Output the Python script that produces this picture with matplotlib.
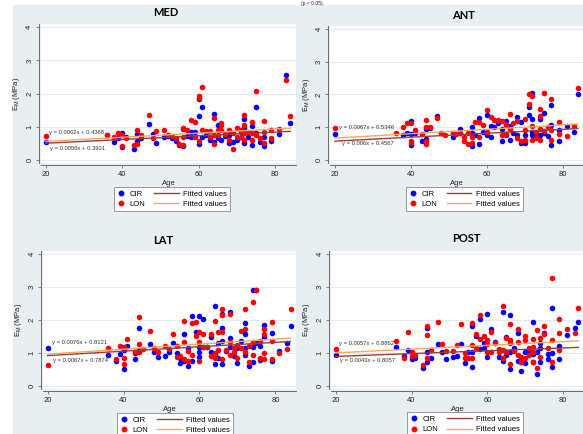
import numpy as np
import matplotlib.pyplot as plt
from matplotlib.lines import Line2D
from matplotlib.patches import Rectangle
from matplotlib.legend_handler import HandlerLine2D

plt.rcParams['font.family'] = ['Liberation Sans', 'DejaVu Sans']

# ---- data ----
med_cir_age = [20, 36, 38, 39, 40, 40, 41, 43, 44, 44, 45, 47, 48, 49, 51, 52, 53, 54, 55, 56, 56, 57, 58, 58, 59,
               60, 60, 60, 61, 61, 62, 63, 64, 64, 65, 65, 66, 67, 68, 68, 69, 70, 71, 72, 72, 72, 73, 74, 74,
               75, 75, 76, 77, 77, 79, 81, 83, 84]
med_cir = [.54, .75, .54, .65, .80, .40, .70, .33, .78, .56, .65, 1.09, .79, .52, .69, .72, .65, .56, .46, .92, .43,
           .72, .83, .70, .83, 1.83, 1.32, .49, 1.59, .70, .76, .60, 1.39, .55, 1.05, .65, .60, .72, .50, .75, .55,
           .60, .85, 1.23, .97, .50, .70, 1.03, .46, 1.60, .80, .55, .43, .70, .57, .77, 2.55, 1.13]
med_lon_age = [20, 36, 38, 39, 40, 40, 41, 43, 44, 44, 45, 47, 48, 49, 51, 52, 53, 54, 55, 56, 56, 56, 57, 58, 59,
               59, 60, 60, 60, 61, 61, 62, 63, 63, 64, 64, 64, 65, 65, 66, 66, 66, 67, 68, 68, 69, 69, 70, 70, 71,
               71, 72, 72, 72, 72, 73, 74, 74, 74, 75, 75, 76, 77, 77, 77, 79, 79, 81, 83, 84]
med_lon = [.72, .76, .69, .81, .75, .43, .65, .44, .90, .48, .76, 1.35, .67, .88, .89, .75, .73, .67, .48, .97, .44,
           .70, .90, 1.22, 1.15, .70, 1.94, 1.87, .58, 2.19, .89, .88, .88, .70, 1.26, .48, .75, .90, .75, 1.13,
           1.06, .90, .77, .90, .60, .32, .80, .95, .70, .70, .90, 1.35, 1.05, .60, .80, .85, 1.15, .60, .80, 2.09,
           .75, .65, 1.19, .50, .85, .90, .65, .92, 2.40, 1.33]

ant_cir_age = [20, 38, 39, 40, 40, 40, 41, 43, 44, 44, 45, 47, 48, 51, 53, 56, 56, 56, 57, 58, 58, 59, 60, 60, 61,
               61, 62, 63, 64, 64, 65, 65, 66, 66, 67, 68, 68, 69, 69, 70, 70, 71, 71, 72, 72, 72, 72, 73, 73, 74,
               74, 75, 75, 76, 77, 77, 77, 79, 79, 81, 83, 84]
ant_cir = [.79, .76, .81, 1.18, .45, .78, .81, .58, .94, .64, .97, 1.35, .82, .69, .94, .42, 1.0, .82, .77, 1.28,
           .50, .85, 1.38, .77, 1.03, .71, 1.0, 1.13, .59, .94, 1.18, .75, .62, 1.03, .82, 1.31, .77, 1.16, .52,
           .52, .77, 1.63, 1.36, 2.04, 1.25, .85, .75, .80, .69, 1.25, .77, 1.45, .84, .72, 1.68, 1.07, .45, .92,
           .59, 1.04, .85, 2.01]
ant_lon_age = [20, 36, 38, 39, 40, 40, 40, 41, 43, 44, 44, 44, 44, 45, 47, 48, 49, 51, 52, 53, 54, 54, 55, 55, 56,
               56, 57, 58, 58, 59, 60, 60, 61, 62, 63, 64, 64, 65, 65, 66, 66, 67, 68, 68, 69, 70, 70, 70, 71, 71,
               72, 72, 72, 73, 73, 74, 74, 74, 74, 75, 75, 76, 77, 77, 77, 79, 79, 81, 83, 84]
ant_lon = [.99, .84, 1.02, 1.13, 1.13, .52, .57, .93, .78, 1.21, .49, .57, 1.0, 1.02, 1.29, .82, .76, .82, .78, .84,
           .71, .58, .49, .82, .52, .69, 1.15, 1.15, .71, 1.06, 1.53, .87, 1.31, 1.23, 1.21, 1.18, .75, 1.08, .79,
           1.40, .94, 1.13, 1.18, .67, .57, 1.26, .92, .60, 2.01, 1.71, 1.95, 1.05, .62, .87, .66, 1.56, 1.33, .95,
           .62, 2.04, .89, 1.0, 1.86, .62, .91, 1.17, .78, .74, 1.03, 2.20]

lat_cir_age = [20, 36, 38, 39, 40, 40, 41, 43, 43, 44, 44, 47, 48, 49, 51, 52, 53, 54, 55, 55, 56, 56, 57, 57, 58,
               58, 59, 60, 60, 60, 60, 61, 61, 62, 63, 63, 64, 64, 64, 65, 65, 66, 66, 66, 66, 67, 68, 68, 68, 69,
               70, 70, 71, 72, 72, 72, 72, 73, 74, 74, 74, 75, 75, 76, 76, 77, 77, 79, 79, 81, 83, 84]
lat_cir = [1.14, .94, .77, .98, .52, 1.10, 1.21, .82, 1.01, 1.76, 1.10, 1.27, 1.04, .87, .91, 1.04, 1.31, 1.0, .70,
           .86, 1.58, .77, .62, 1.14, 2.13, .77, 1.63, 2.12, 1.04, 1.19, .89, 2.04, 1.17, 1.17, 1.49, 1.02, 2.41,
           .68, .91, 1.29, .86, 2.17, 1.75, 1.36, .68, 1.07, 2.24, 1.44, 1.17, .91, .70, 1.14, 1.36, 1.91, 1.57,
           .94, 1.14, .62, 2.90, .74, 1.19, 2.92, 1.29, .79, 1.21, 1.84, 1.50, 1.60, .77, 1.07, 1.31, 1.83]
lat_lon_age = [20, 36, 38, 39, 40, 40, 40, 41, 43, 44, 44, 44, 45, 47, 48, 49, 51, 52, 53, 54, 54, 55, 56, 56, 56,
               57, 57, 58, 58, 59, 59, 60, 60, 60, 61, 61, 62, 63, 63, 64, 64, 64, 65, 65, 66, 66, 66, 66, 67, 68,
               68, 68, 69, 69, 70, 70, 71, 71, 72, 72, 72, 73, 73, 74, 74, 74, 75, 76, 76, 77, 77, 77, 77, 79, 79,
               79, 81, 83, 84]
lat_lon = [.65, 1.14, .81, 1.22, .66, .84, 1.19, 1.42, 1.02, 2.10, 1.26, 1.03, 1.12, 1.67, 1.16, 1.02, 1.22, 1.12,
           1.57, .89, 1.22, .92, 1.96, .82, 1.34, .77, 1.06, 1.91, .94, 1.95, 1.52, 1.65, 1.34, .77, 1.58, 1.19,
           1.19, 1.58, .91, 1.97, .86, 1.01, 1.64, 1.09, 2.32, 2.14, 1.65, .82, 1.09, 2.17, 1.34, .94, 1.14, 1.04,
           .84, 1.24, 1.68, 1.14, 2.33, 1.72, 1.02, .74, 1.21, 2.54, 1.34, .94, 2.90, .84, 1.37, 1.73, 1.58, .81,
           .99, 1.94, 1.36, .83, 1.0, 1.12, 2.34]

post_cir_age = [20, 36, 38, 39, 40, 41, 43, 44, 44, 44, 45, 47, 48, 49, 51, 52, 53, 54, 55, 56, 56, 56, 57, 58, 58,
                59, 59, 60, 60, 61, 62, 63, 64, 64, 65, 65, 66, 66, 66, 67, 68, 68, 69, 69, 70, 70, 71, 72, 72, 72,
                73, 73, 74, 74, 74, 75, 76, 76, 77, 77, 77, 79, 79, 81, 83, 84]
post_cir = [.92, 1.18, .91, 1.09, .81, .85, .54, 1.76, 1.02, .71, .83, 1.28, 1.02, .82, .88, .91, 1.27, .70, 1.04,
            1.82, .56, 1.04, 1.51, 2.03, 1.12, 1.31, 1.14, 2.19, .88, 1.73, 1.33, .88, 2.23, .75, 1.49, .93, 2.16,
            .51, 1.02, 1.14, 1.59, .75, .44, .73, .68, 1.04, 1.09, 1.93, .95, .73, .37, 1.04, 1.31, .73, 1.14,
            1.59, .96, .81, 2.36, 1.0, .57, 1.20, .81, 1.54, 1.76, 1.95]
post_lon_age = [20, 36, 38, 39, 40, 40, 41, 43, 44, 44, 44, 45, 47, 48, 49, 51, 52, 53, 54, 54, 55, 56, 56, 56, 57,
                57, 58, 58, 59, 60, 60, 60, 61, 61, 62, 63, 63, 64, 64, 64, 65, 65, 66, 66, 66, 66, 67, 68, 68, 68,
                69, 69, 70, 70, 70, 71, 71, 72, 72, 72, 72, 73, 73, 74, 74, 75, 75, 76, 77, 77, 77, 79, 79, 79, 81,
                83, 84]
post_lon = [1.11, 1.36, .85, 1.63, 1.02, .91, .93, .63, 1.83, 1.53, .83, 1.08, 1.93, 1.27, 1.06, 1.06, 1.24, 1.89,
            .83, 1.0, .83, 1.92, .85, 1.24, 1.58, 1.16, 2.15, 1.41, 1.51, 1.39, 1.02, 1.27, 1.62, 1.04, 1.31, 1.12,
            1.04, 2.44, .83, 1.09, 1.46, 1.02, 1.87, .67, 1.39, 1.29, 1.06, 1.72, 1.34, .93, .73, .88, 1.51, 1.39,
            .83, .93, 1.14, 1.41, 1.19, .73, 1.04, .54, 1.69, 1.46, .88, 1.82, 1.57, 1.14, 3.29, 1.38, .73, 2.04,
            1.61, 1.09, 1.73, 1.61, 2.35]

# fitted lines (slope, intercept) as printed on each panel
med_fit_cir, med_fit_lon = (0.0056, 0.3931), (0.0062, 0.4368)
ant_fit_cir, ant_fit_lon = (0.006, 0.4567), (0.0067, 0.5346)
lat_fit_cir, lat_fit_lon = (0.0067, 0.7874), (0.0076, 0.8121)
post_fit_cir, post_fit_lon = (0.0043, 0.8057), (0.0057, 0.8862)
fit_range = [20, 84]

# ---- layout (pixels) ----
W, H = 583, 434
BG = '#e8eff2'
CIR_COL, LON_COL = '#0000ff', '#ff0000'
CIR_FIT, LON_FIT = '#9e3c3c', '#f2aa5c'


def rect(l, r, t, b):
    return [l / W, 1 - b / H, (r - l) / W, (b - t) / H]


class LongLine(HandlerLine2D):
    # line handle that reaches back into the column gap
    def create_artists(self, legend, orig_handle, xdescent, ydescent, width, height, fontsize, trans):
        ext = 2.2 * fontsize
        return super().create_artists(legend, orig_handle, xdescent + ext, ydescent, width + ext,
                                      height, fontsize, trans)


fig = plt.figure(figsize=(W / 100, H / 100), dpi=100)
fig.patch.set_facecolor('white')
fig.add_artist(Rectangle((13 / W, 0), 1 - 13 / W, 1 - 5 / H, transform=fig.transFigure,
                         facecolor=BG, edgecolor='none', zorder=0))
fig.text(301 / W, 1 - 0.5 / H, '(p < 0.05).', fontsize=3.6, ha='left', va='top', color='#222222')

panels = [
    ('MED', rect(41, 296, 24, 163.3), med_cir_age, med_cir, med_lon_age, med_lon, med_fit_cir, med_fit_lon,
     (166, 12), (172, 199), [(21.0, 0.84), (21.2, 0.36)]),
    ('ANT', rect(330.4, 583.6, 25.7, 163.3), ant_cir_age, ant_cir, ant_lon_age, ant_lon, ant_fit_cir, ant_fit_lon,
     (463, 15.5), (464.5, 199), [(21.1, 1.0), (21.8, 0.49)]),
    ('LAT', rect(43.1, 296.2, 250.7, 389.3), lat_cir_age, lat_cir, lat_lon_age, lat_lon, lat_fit_cir, lat_fit_lon,
     (163, 240), (175, 425), [(21.1, 1.31), (21.5, 0.77)]),
    ('POST', rect(331.2, 584, 251, 389), post_cir_age, post_cir, post_lon_age, post_lon, post_fit_cir, post_fit_lon,
     (466, 239), (465, 424.5), [(20.9, 1.30), (21.1, 0.76)]),
]

for title, pos, ca, cv, la, lv, fc, fl, tpos, lpos, eqpos in panels:
    ax = fig.add_axes(pos)
    ax.set_facecolor('white')
    ax.set_xlim(18.8, 85.5)
    ax.set_ylim(-0.1, 4.1)
    ax.set_xticks([20, 40, 60, 80])
    ax.set_yticks([0, 1, 2, 3, 4])
    ax.grid(axis='y', color='#e4ecef', lw=0.8)
    ax.set_axisbelow(True)
    for s in ['top', 'right']:
        ax.spines[s].set_visible(False)
    for s in ['left', 'bottom']:
        ax.spines[s].set_position(('outward', 1.5))
        ax.spines[s].set_color('#555555')
        ax.spines[s].set_linewidth(0.6)
    ax.tick_params(length=2.5, width=0.5, color='#555555', labelsize=5.5, pad=1.5, labelcolor='#222222')
    ax.tick_params(axis='y', labelrotation=90)
    for lab in ax.get_yticklabels():
        lab.set_va('center')

    ax.scatter(ca, cv, s=16, color=CIR_COL, lw=0, zorder=3)
    ax.scatter(la, lv, s=16, color=LON_COL, lw=0, zorder=3)
    xs = np.array(fit_range)
    ax.plot(xs, fc[0] * xs + fc[1], color=CIR_FIT, lw=1.0, zorder=4)
    ax.plot(xs, fl[0] * xs + fl[1], color=LON_FIT, lw=1.0, zorder=4)

    ax.text(eqpos[0][0], eqpos[0][1], f'y = {fl[0]}x + {fl[1]}', fontsize=4.2, color='#333333',
            va='center', ha='left', zorder=5)
    ax.text(eqpos[1][0], eqpos[1][1], f'y = {fc[0]}x + {fc[1]}', fontsize=4.2, color='#333333',
            va='center', ha='left', zorder=5)

    ax.set_xlabel('Age', fontsize=5.5, labelpad=1.5, color='#222222')
    ax.set_ylabel('E$_\\mathregular{M}$ (MPa)', fontsize=5.5, labelpad=3, color='#222222')
    fig.text(tpos[0] / W, 1 - tpos[1] / H, title, fontsize=8, fontweight='bold', ha='center', va='center',
             family=['Lato', 'DejaVu Sans'])

    h_cir = Line2D([], [], ls='', marker='o', color=CIR_COL, markersize=3.2)
    h_lon = Line2D([], [], ls='', marker='o', color=LON_COL, markersize=3.2)
    f_cir = Line2D([], [], color=CIR_FIT, lw=1.0)
    f_lon = Line2D([], [], color=LON_FIT, lw=1.0)
    leg = fig.legend([h_cir, h_lon, f_cir, f_lon], ['CIR', 'LON', 'Fitted values', 'Fitted values'],
                     ncol=2, loc='center', bbox_to_anchor=(lpos[0] / W, 1 - lpos[1] / H), fontsize=5.5,
                     frameon=True, fancybox=False, edgecolor='#888888', framealpha=1, handlelength=1.0,
                     handletextpad=0.6, columnspacing=3.4, labelspacing=0.35, borderpad=0.45,
                     handler_map={f_cir: LongLine(), f_lon: LongLine()})
    leg.get_frame().set_linewidth(0.6)

fig.savefig('out.png', dpi=100)
